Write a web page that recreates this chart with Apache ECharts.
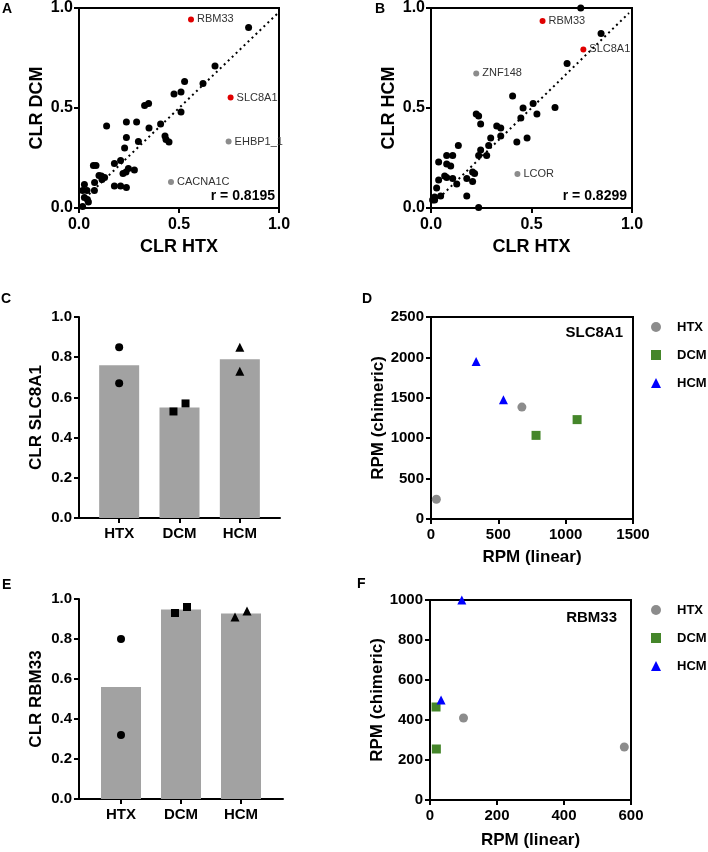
<!DOCTYPE html>
<html><head><meta charset="utf-8">
<script src="https://cdn.jsdelivr.net/npm/echarts@6/dist/echarts.min.js"></script>
<style>html,body{margin:0;padding:0;background:#fff}#c{width:708px;height:852px}</style>
</head><body><div id="c"></div>
<script>
// ---------- DATA ----------
// Panel A: CLR HTX (x) vs CLR DCM (y)
const aBlack = [[0.848,0.903],[0.68,0.71],[0.62,0.622],[0.528,0.633],[0.51,0.58],[0.475,0.57],[0.51,0.48],[0.348,0.522],[0.328,0.513],[0.408,0.42],[0.35,0.40],[0.43,0.36],[0.435,0.343],[0.45,0.33],[0.138,0.41],[0.237,0.43],[0.288,0.43],[0.237,0.352],[0.297,0.332],[0.228,0.30],[0.208,0.238],[0.177,0.222],[0.247,0.198],[0.22,0.173],[0.277,0.19],[0.235,0.18],[0.072,0.212],[0.085,0.212],[0.1,0.162],[0.112,0.16],[0.128,0.152],[0.115,0.143],[0.078,0.128],[0.177,0.11],[0.208,0.11],[0.237,0.102],[0.027,0.118],[0.018,0.087],[0.04,0.087],[0.077,0.087],[0.027,0.053],[0.042,0.043],[0.047,0.03],[0.018,0.007]];
const aRed = [{name:'RBM33', value:[0.56,0.943]}, {name:'SLC8A1', value:[0.758,0.552]}];
const aGrey = [{name:'EHBP1_1', value:[0.748,0.332]}, {name:'CACNA1C', value:[0.46,0.13]}];
const aFit = [[0.05,0.068],[0.99,0.97]];
const aR = 'r = 0.8195';

// Panel B: CLR HTX (x) vs CLR HCM (y)
const bBlack = [[0.745,1.0],[0.846,0.873],[0.677,0.723],[0.406,0.56],[0.617,0.503],[0.508,0.522],[0.458,0.50],[0.527,0.47],[0.447,0.45],[0.478,0.35],[0.427,0.33],[0.225,0.47],[0.237,0.46],[0.247,0.42],[0.327,0.41],[0.347,0.40],[0.347,0.36],[0.297,0.35],[0.287,0.313],[0.247,0.29],[0.277,0.263],[0.237,0.263],[0.136,0.312],[0.078,0.263],[0.108,0.263],[0.038,0.23],[0.078,0.22],[0.098,0.21],[0.068,0.16],[0.078,0.153],[0.108,0.148],[0.038,0.14],[0.128,0.12],[0.178,0.148],[0.207,0.18],[0.217,0.173],[0.207,0.133],[0.028,0.10],[0.048,0.06],[0.018,0.055],[0.008,0.04],[0.018,0.04],[0.178,0.06],[0.237,0.003]];
const bRed = [{name:'RBM33', value:[0.555,0.935]}, {name:'SLC8A1', value:[0.758,0.793]}];
const bGrey = [{name:'ZNF148', value:[0.225,0.673]}, {name:'LCOR', value:[0.43,0.17]}];
const bFit = [[0.02,0.03],[0.985,0.975]];
const bR = 'r = 0.8299';

// Panels C / E: groups
const groups = ['HTX','DCM','HCM'];
const clrTicks = [0, 0.2, 0.4, 0.6, 0.8, 1.0];
const cBars = [0.76, 0.55, 0.79];
const cHTX = [[1,0.85],[1,0.67]];
const cDCM = [[1.9,0.53],[2.1,0.57]];
const cHCM = [[3,0.85],[3,0.73]];
const eBars = [0.56, 0.947, 0.927];
const eHTX = [[1,0.80],[1,0.32]];
const eDCM = [[1.9,0.93],[2.1,0.96]];
const eHCM = [[2.9,0.91],[3.1,0.94]];

// Panel D: SLC8A1 RPM (linear, chimeric)
const dHTX = [[40,245],[675,1385]];
const dDCM = [[780,1035],[1085,1230]];
const dHCM = [[335,1950],[538,1475]];
// Panel F: RBM33
const fHTX = [[100,410],[580,265]];
const fDCM = [[18,465],[19,255]];
const fHCM = [[95,1000],[33,500]];

// ---------- STYLE ----------
const FF = '"Liberation Sans", Arial, sans-serif';
const GREY = '#8c8c8c', GREEN = '#45862a', BLUE = '#0000ff', BAR = '#a2a2a2';
const lineS = {show:true, lineStyle:{color:'#000', width:2}};
const tickS = {show:true, length:5, lineStyle:{color:'#000', width:2}};
function lab(size, margin, fmt){ return {color:'#000', fontWeight:'bold', fontSize:size, fontFamily:FF, margin:margin, formatter:fmt || (v => String(v))}; }
function nameS(size){ return {color:'#000', fontWeight:'bold', fontSize:size, fontFamily:FF}; }
const f1 = v => v.toFixed(1);

function valAxis(o){
  return Object.assign({type:'value', axisLine:lineS, axisTick:tickS, splitLine:{show:false}}, o);
}

const grid = [
  {left:79, top:8, width:200, height:200, show:true, borderColor:'#000', borderWidth:2},   //0 A
  {left:431, top:8, width:201, height:200, show:true, borderColor:'#000', borderWidth:2},  //1 B
  {left:79, top:317, width:201, height:201},  //2 C frame
  {left:89, top:317, width:181, height:201},  //3 C bars
  {left:431, top:317, width:202, height:202, show:true, borderColor:'#000', borderWidth:2}, //4 D
  {left:79, top:599, width:204, height:200},  //5 E frame
  {left:91, top:599, width:180, height:200},  //6 E bars
  {left:430, top:600, width:201, height:200, show:true, borderColor:'#000', borderWidth:2} //7 F
];

const xAxis = [
  valAxis({gridIndex:0, min:0, max:1, interval:0.5, axisLabel:lab(16,9,f1), name:'CLR HTX', nameLocation:'middle', nameGap:30, nameTextStyle:nameS(18)}),
  valAxis({gridIndex:1, min:0, max:1, interval:0.5, axisLabel:lab(16,9,f1), name:'CLR HTX', nameLocation:'middle', nameGap:30, nameTextStyle:nameS(18)}),
  valAxis({gridIndex:2, min:0, max:1, axisLabel:{show:false}, axisTick:{show:false}}),
  {type:'category', gridIndex:3, data:groups, axisLine:{show:false}, axisTick:{show:true, alignWithLabel:true, length:5, lineStyle:{color:'#000', width:2}}, axisLabel:lab(15,8)},
  {type:'value', gridIndex:3, min:0.5, max:3.5, show:false},
  valAxis({gridIndex:4, min:0, max:1500, interval:500, axisLabel:lab(15,8), name:'RPM (linear)', nameLocation:'middle', nameGap:30, nameTextStyle:nameS(17)}),
  valAxis({gridIndex:5, min:0, max:1, axisLabel:{show:false}, axisTick:{show:false}}),
  {type:'category', gridIndex:6, data:groups, axisLine:{show:false}, axisTick:{show:true, alignWithLabel:true, length:5, lineStyle:{color:'#000', width:2}}, axisLabel:lab(15,8)},
  {type:'value', gridIndex:6, min:0.5, max:3.5, show:false},
  valAxis({gridIndex:7, min:0, max:600, interval:200, axisLabel:lab(15,8), name:'RPM (linear)', nameLocation:'middle', nameGap:32, nameTextStyle:nameS(17)})
];

const yAxis = [
  valAxis({gridIndex:0, min:0, max:1, interval:0.5, axisLabel:lab(16,6,f1), name:'CLR DCM', nameLocation:'middle', nameGap:33, nameTextStyle:nameS(18)}),
  valAxis({gridIndex:1, min:0, max:1, interval:0.5, axisLabel:lab(16,6,f1), name:'CLR HCM', nameLocation:'middle', nameGap:33, nameTextStyle:nameS(18)}),
  valAxis({gridIndex:2, min:clrTicks[0], max:clrTicks[clrTicks.length-1], interval:0.2, axisLabel:lab(15,7,f1), name:'CLR SLC8A1', nameLocation:'middle', nameGap:34, nameTextStyle:nameS(17)}),
  {type:'value', gridIndex:3, min:0, max:1, show:false},
  valAxis({gridIndex:4, min:0, max:2500, interval:500, axisLabel:lab(15,7), name:'RPM (chimeric)', nameLocation:'middle', nameGap:44, nameTextStyle:nameS(17)}),
  valAxis({gridIndex:5, min:clrTicks[0], max:clrTicks[clrTicks.length-1], interval:0.2, axisLabel:lab(15,7,f1), name:'CLR RBM33', nameLocation:'middle', nameGap:34, nameTextStyle:nameS(17)}),
  {type:'value', gridIndex:6, min:0, max:1, show:false},
  valAxis({gridIndex:7, min:0, max:1000, interval:200, axisLabel:lab(15,7), name:'RPM (chimeric)', nameLocation:'middle', nameGap:44, nameTextStyle:nameS(17)})
];

function dots(xi, yi, data, color, size, labels){
  return {type:'scatter', xAxisIndex:xi, yAxisIndex:yi, data:data, symbol:'circle', symbolSize:size, clip:false,
    itemStyle:{color:color, opacity:1}, silent:true,
    label: labels ? {show:true, position:'right', distance:3, formatter:'{b}', color:'#333', fontSize:11, fontFamily:FF} : {show:false}};
}
function fit(xi, yi, data){
  return {type:'line', xAxisIndex:xi, yAxisIndex:yi, data:data, symbol:'none', silent:true,
    lineStyle:{color:'#000', width:2, type:[2,3.5], cap:'butt'}};
}
function pts(xi, yi, data, symbol, size, color, name){
  const s = {type:'scatter', xAxisIndex:xi, yAxisIndex:yi, data:data, symbol:symbol, symbolSize:size, clip:false, itemStyle:{color:color, opacity:1}, silent:true};
  if (name) s.name = name;
  return s;
}
function bars(xi, yi, data){
  return {type:'bar', xAxisIndex:xi, yAxisIndex:yi, data:data, barWidth:40, itemStyle:{color:BAR}, silent:true};
}

const series = [
  fit(0,0,aFit), dots(0,0,aBlack,'#000',7,false), dots(0,0,aRed,'#e00000',6,true), dots(0,0,aGrey,GREY,6,true),
  fit(1,1,bFit), dots(1,1,bBlack,'#000',7,false), dots(1,1,bRed,'#e00000',6,true), dots(1,1,bGrey,GREY,6,true),
  bars(3,3,cBars), pts(4,3,cHTX,'circle',8,'#000'), pts(4,3,cDCM,'rect',8,'#000'), pts(4,3,cHCM,'triangle',9,'#000'),
  pts(5,4,dHTX,'circle',9,GREY,'HTX'), pts(5,4,dDCM,'rect',9,GREEN,'DCM'), pts(5,4,dHCM,'triangle',9,BLUE,'HCM'),
  bars(7,6,eBars), pts(8,6,eHTX,'circle',8,'#000'), pts(8,6,eDCM,'rect',8,'#000'), pts(8,6,eHCM,'triangle',9,'#000'),
  pts(9,7,fHTX,'circle',9,GREY,'HTX'), pts(9,7,fDCM,'rect',9,GREEN,'DCM'), pts(9,7,fHCM,'triangle',9,BLUE,'HCM')
];

function legend(top){
  return {data:groups, orient:'vertical', left:651, top:top, padding:0, itemWidth:10, itemHeight:10, itemGap:14,
    selectedMode:false, textStyle:{color:'#000', fontWeight:'bold', fontSize:13, fontFamily:FF, lineHeight:14, padding:[0,0,0,11]}};
}
function txt(text, x, y, size, weight, align){
  const t = {text:text, top:y, padding:0, textStyle:{color:'#000', fontWeight:weight, fontSize:size, fontFamily:FF}};
  if (align === 'right') t.right = 708 - x; else t.left = x;
  return t;
}

const title = [
  txt('A', 2, 2, 14, 'bold'), txt('B', 375, 2, 14, 'bold'),
  txt('C', 1, 292, 14, 'bold'), txt('D', 362, 292, 14, 'bold'),
  txt('E', 2, 578, 14, 'bold'), txt('F', 357, 577, 14, 'bold'),
  txt(aR, 275, 189, 14, 'bold', 'right'), txt(bR, 627, 189, 14, 'bold', 'right'),
  txt('SLC8A1', 623, 325, 15, 'bold', 'right'), txt('RBM33', 617, 610, 15, 'bold', 'right')
];

const chart = echarts.init(document.getElementById('c'), null, {renderer:'canvas'});
chart.setOption({animation:false, backgroundColor:'#fff', title:title, grid:grid, xAxis:xAxis, yAxis:yAxis,
  legend:[legend(320), legend(603)], series:series});
</script></body></html>
